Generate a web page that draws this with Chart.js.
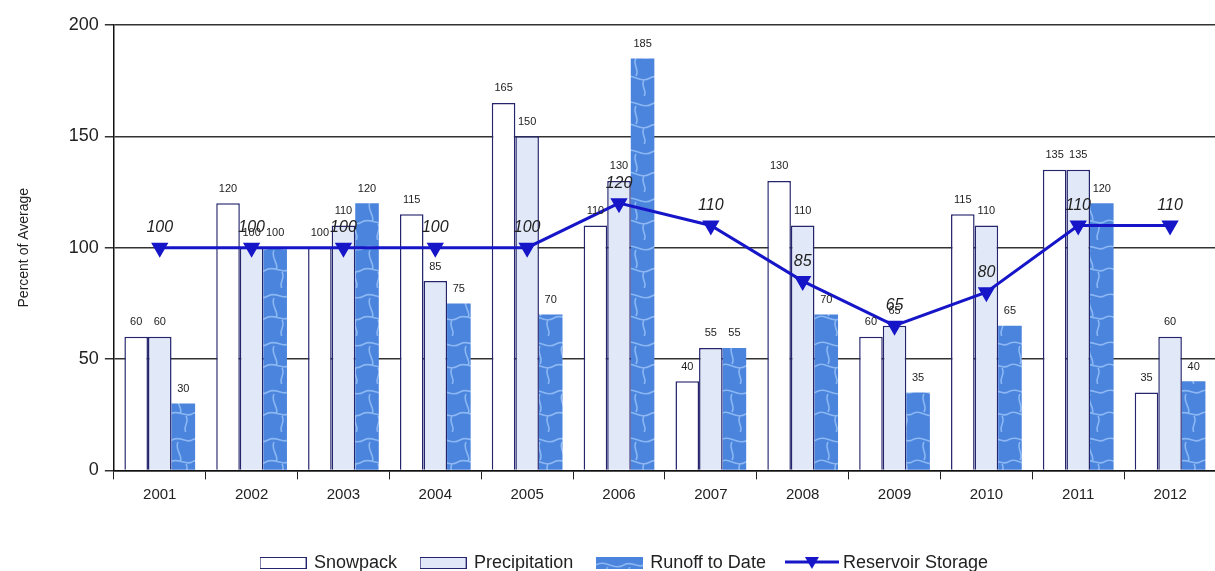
<!DOCTYPE html>
<html>
<head>
<meta charset="utf-8">
<script src="https://cdn.jsdelivr.net/npm/chart.js@4"></script>
<style>
  html, body { margin: 0; padding: 0; background: #fff; overflow: hidden; }
  #wrap { width: 1226px; height: 582px; }
</style>
</head>
<body>
<div id="wrap"><canvas id="chart"></canvas></div>
<script>
// data
var years = ['2001', '2002', '2003', '2004', '2005', '2006', '2007', '2008', '2009', '2010', '2011', '2012'];
var snowpack = [60, 120, 100, 115, 165, 110, 40, 130, 60, 115, 135, 35];
var precipitation = [60, 100, 110, 85, 150, 130, 55, 110, 65, 110, 135, 60];
var runoff = [30, 100, 120, 75, 70, 185, 55, 70, 35, 65, 120, 40];
var reservoir = [100, 100, 100, 100, 100, 120, 110, 85, 65, 80, 110, 110];
var yTicks = [0, 50, 100, 150, 200];

var NAVY = '#25256e';
var LINE_BLUE = '#1616c8';
var PRECIP_FILL = '#e1e9f8';
var FONT = '"Liberation Sans", Arial, sans-serif';

// water texture for the runoff bars
function makeWater() {
    var c = document.createElement('canvas');
    c.width = 48; c.height = 48;
    var g = c.getContext('2d');
    g.fillStyle = '#4b84dc';
    g.fillRect(0, 0, 48, 48);
    g.strokeStyle = 'rgba(160,200,250,0.75)';
    g.lineWidth = 1.6;
    g.beginPath();
    g.moveTo(0, 8); g.bezierCurveTo(10, 2, 18, 14, 28, 8); g.bezierCurveTo(36, 3, 42, 12, 48, 8);
    g.moveTo(0, 30); g.bezierCurveTo(8, 24, 16, 36, 26, 30); g.bezierCurveTo(34, 25, 42, 34, 48, 30);
    g.moveTo(12, 10); g.bezierCurveTo(8, 16, 16, 22, 12, 28);
    g.moveTo(34, 10); g.bezierCurveTo(30, 18, 40, 24, 36, 30);
    g.moveTo(20, 32); g.bezierCurveTo(16, 38, 24, 44, 20, 48);
    g.moveTo(42, 32); g.bezierCurveTo(46, 38, 38, 44, 42, 48);
    g.stroke();
    return g.createPattern(c, 'repeat');
}
var water = makeWater();

function legendIcon(kind) {
    var c = document.createElement('canvas');
    if (kind == 'line') {
        c.width = 54; c.height = 14;
        var g = c.getContext('2d');
        g.strokeStyle = LINE_BLUE; g.lineWidth = 3;
        g.beginPath(); g.moveTo(0, 6); g.lineTo(54, 6); g.stroke();
        g.fillStyle = LINE_BLUE;
        g.beginPath(); g.moveTo(20, 1); g.lineTo(34, 1); g.lineTo(27, 13); g.closePath(); g.fill();
        return c;
    }
    c.width = 47; c.height = 12;
    var g = c.getContext('2d');
    g.fillStyle = kind == 'snow' ? '#ffffff' : kind == 'precip' ? PRECIP_FILL : water;
    g.fillRect(0, 0, 47, 12);
    if (kind != 'runoff') {
        g.strokeStyle = NAVY; g.lineWidth = 1;
        g.strokeRect(0.5, 0.5, 46, 11);
    }
    return c;
}
var icons = [legendIcon('snow'), legendIcon('precip'), legendIcon('runoff'), legendIcon('line')];

// value labels above bars and markers
var valueLabels = {
    id: 'valueLabels',
    afterDatasetsDraw: function (chart) {
        var ctx = chart.ctx;
        ctx.save();
        ctx.textAlign = 'center';
        ctx.textBaseline = 'bottom';
        ctx.fillStyle = '#222';
        chart.data.datasets.forEach(function (ds, i) {
            var meta = chart.getDatasetMeta(i);
            meta.data.forEach(function (el, j) {
                if (ds.type == 'line') {
                    ctx.font = 'italic 16px ' + FONT;
                    ctx.fillText(ds.data[j], el.x, el.y - 12);
                } else {
                    ctx.font = '11px ' + FONT;
                    ctx.fillText(ds.data[j], el.x, el.y - 9);
                }
            });
        });
        ctx.restore();
    }
};

// legend sits a little right of the page centre in the original
var legendShift = {
    id: 'legendShift',
    afterLayout: function (chart) {
        chart.legend.left += 12;
        chart.legend.right += 12;
    }
};

var ctx = document.getElementById('chart');

var chart = new Chart(ctx, {
    type: 'bar',
    data: {
        labels: years,
        datasets: [{
            label: 'Snowpack',
            data: snowpack,
            backgroundColor: '#ffffff',
            borderColor: NAVY,
            borderWidth: { top: 1.5, left: 1.5, right: 1.5, bottom: 0 },
            order: 1
        }, {
            label: 'Precipitation',
            data: precipitation,
            backgroundColor: PRECIP_FILL,
            borderColor: NAVY,
            borderWidth: { top: 1.5, left: 1.5, right: 1.5, bottom: 0 },
            order: 1
        }, {
            label: 'Runoff to Date',
            data: runoff,
            backgroundColor: water,
            borderWidth: 0,
            order: 1
        }, {
            type: 'line',
            label: 'Reservoir Storage',
            data: reservoir,
            borderColor: LINE_BLUE,
            backgroundColor: LINE_BLUE,
            borderWidth: 3,
            pointStyle: 'triangle',
            rotation: 180,
            pointRadius: 7,
            pointHoverRadius: 7,
            tension: 0,
            order: 0
        }]
    },
    options: {
        responsive: true,
        maintainAspectRatio: false,
        animation: false,
        datasets: {
            bar: { categoryPercentage: 0.77, barPercentage: 1 }
        },
        layout: { padding: { top: 25, left: 0, right: 1, bottom: 0 } },
        plugins: {
            tooltip: { enabled: false },
            legend: {
                position: 'bottom',
                labels: {
                    usePointStyle: true,
                    pointStyleWidth: 44,
                    padding: 24,
                    color: '#222',
                    font: { family: FONT, size: 18 },
                    generateLabels: function (chart) {
                        var items = Chart.defaults.plugins.legend.labels.generateLabels(chart);
                        items.sort(function (a, b) { return a.datasetIndex - b.datasetIndex; });
                        items.forEach(function (it) {
                            it.pointStyle = icons[it.datasetIndex];
                            it.rotation = 0;
                        });
                        return items;
                    }
                },
                title: { display: true, text: ' ', padding: 2.5, font: { size: 12 } }
            }
        },
        scales: {
            x: {
                grid: { drawOnChartArea: false, tickLength: 9, color: '#222', tickColor: '#222' },
                border: { color: '#111', width: 1.5 },
                ticks: {
                    color: '#222',
                    padding: 6.6,
                    font: { family: FONT, size: 15 }
                }
            },
            y: {
                min: 0,
                max: 200,
                afterBuildTicks: function (axis) {
                    axis.ticks = yTicks.map(function (v) { return { value: v }; });
                },
                grid: { color: '#333', lineWidth: 1.5, tickLength: 9, tickColor: '#333' },
                border: { color: '#111', width: 1.5 },
                ticks: {
                    color: '#222',
                    padding: 6,
                    font: { family: FONT, size: 18 }
                },
                title: {
                    display: true,
                    text: 'Percent of Average',
                    color: '#222',
                    padding: { top: 16, bottom: 30 },
                    font: { family: FONT, size: 14 }
                }
            }
        }
    },
    plugins: [valueLabels, legendShift]
});
</script>
</body>
</html>
